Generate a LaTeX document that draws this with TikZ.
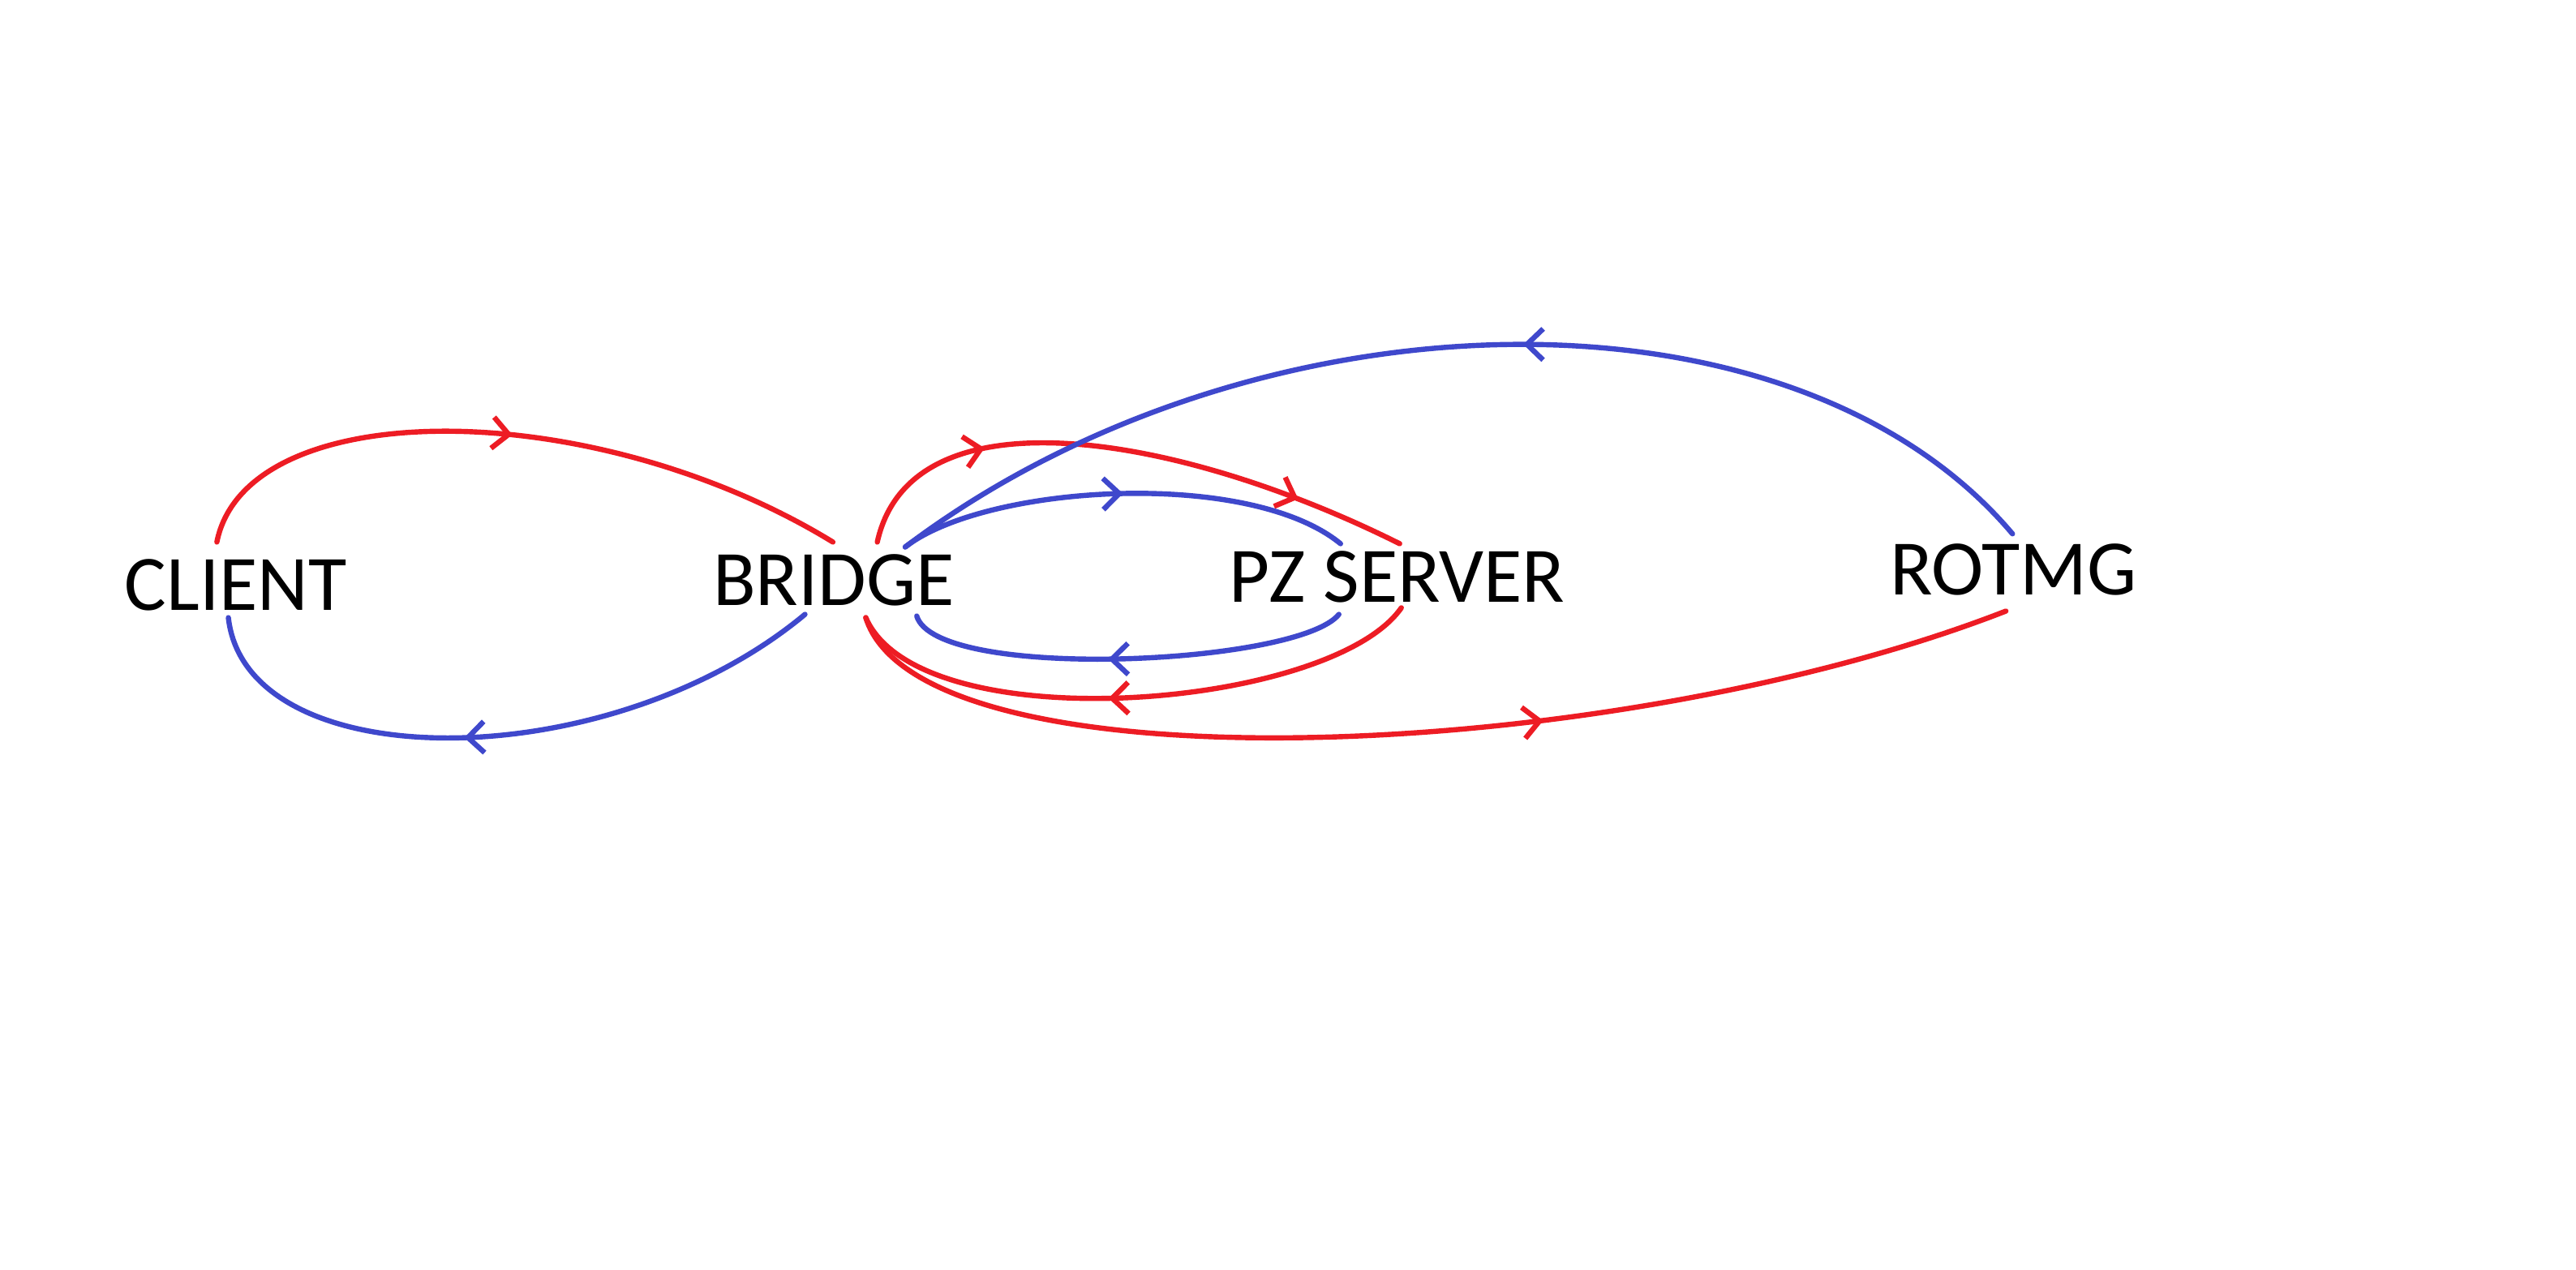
\documentclass[tikz,border=0pt]{standalone}
\usepackage{fontspec}
\setmainfont{Carlito}
\usetikzlibrary{arrows.meta,decorations.markings}
\definecolor{pred}{RGB}{237,28,36}
\definecolor{pblue}{RGB}{63,72,204}
\tikzset{
  lbl/.style={inner sep=0pt, font=\fontsize{13.6}{16}\selectfont},
  wire/.style={line width=0.9pt, line cap=round},
  redw/.style={wire, draw=pred},
  bluew/.style={wire, draw=pblue},
  arrowat/.style={postaction={decorate,decoration={markings,
     mark=at position #1 with {\arrow[line width=0.9pt]{Straight Barb[length=2.8pt,width=5.4pt]}}}}}
}
\begin{document}
\begin{tikzpicture}[x=0.01cm,y=-0.01cm]
\fill[white] (0,0) rectangle (1568,773);
\useasboundingbox (0,0) rectangle (1568,773);
\node[lbl] (client) at (143.5,356) {CLIENT};
\node[lbl] (bridge) at (507.5,353) {BRIDGE};
\node[lbl] (pz) at (850.5,351) {PZ SERVER};
\node[lbl] (rotmg) at (1225.5,347) {ROTMG};
% 1 red client -> bridge
\draw[redw, arrowat=0.5] ([shift={(-11.5,-26)}]client.center) .. controls (150,240) and (360,240) .. ([shift={(-0.5,-23)}]bridge.center);
% 2 blue bridge -> client
\draw[bluew, arrowat=0.56] ([shift={(-17.5,21)}]bridge.center) .. controls (370,474) and (150,474) .. ([shift={(-4.5,20)}]client.center);
% 3 red bridge -> pz
\draw[redw, arrowat=0.26, arrowat=0.81] ([shift={(26.5,-23)}]bridge.center) .. controls (555,235) and (720,265) .. ([shift={(1.5,-20)}]pz.center);
% 4 blue bridge -> pz
\draw[bluew, arrowat=0.5] ([shift={(43.5,-20)}]bridge.center) .. controls (600,295) and (760,285) .. ([shift={(-34.5,-20)}]pz.center);
% 5 blue rotmg -> bridge
\draw[bluew, arrowat=0.45] ([shift={(-0.5,-22)}]rotmg.center) .. controls (1090,165) and (760,175) .. ([shift={(43.5,-20)}]bridge.center);
% 6 blue pz -> bridge
\draw[bluew, arrowat=0.54] ([shift={(-35.5,23)}]pz.center) .. controls (790,405) and (570,415) .. ([shift={(50.5,22)}]bridge.center);
% 7 red pz -> bridge
\draw[redw, arrowat=0.54] ([shift={(2.5,19)}]pz.center) .. controls (810,432) and (560,452) .. ([shift={(19.5,23)}]bridge.center);
% 8 red bridge -> rotmg
\draw[redw, arrowat=0.6] ([shift={(19.5,23)}]bridge.center) .. controls (560,482) and (980,466) .. ([shift={(-4.5,25)}]rotmg.center);
\end{tikzpicture}
\end{document}
